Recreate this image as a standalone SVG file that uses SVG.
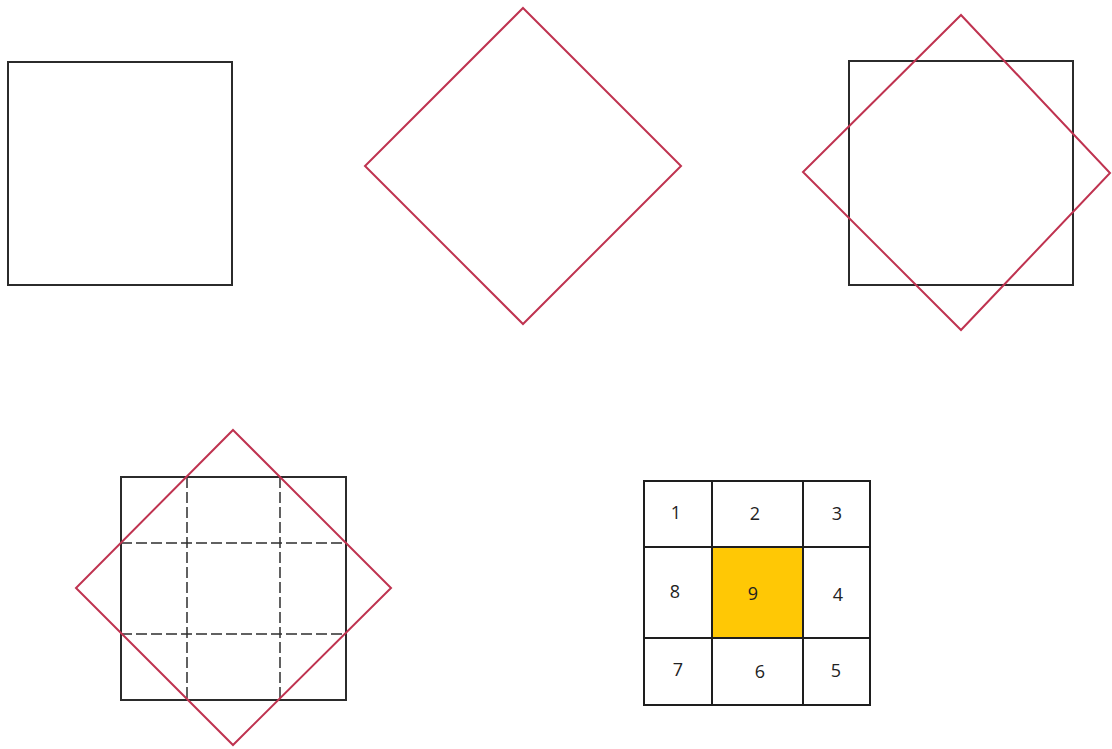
<svg xmlns="http://www.w3.org/2000/svg" width="1112" height="749" viewBox="0 0 1112 749">
<style>
.sq{fill:none;stroke:#2b2b2b;stroke-width:2}
.dm{fill:none;stroke:#bf3350;stroke-width:2}
.dash{fill:none;stroke:#2e2e2e;stroke-width:1.5;stroke-dasharray:11 4}
.grid{fill:none;stroke:#1e1e1e;stroke-width:2}
.num{font-family:"Open Sans","Liberation Sans",sans-serif;font-size:18px;fill:#222;text-anchor:middle;dominant-baseline:central}
</style>
<rect width="1112" height="749" fill="#fff"/>
<g id="fig1">
<rect class="sq" x="8" y="62" width="224" height="223"/>
</g>
<g id="fig2">
<polygon class="dm" points="523,8 681,166 523,324 365,166"/>
</g>
<g id="fig3">
<rect class="sq" x="849" y="61" width="224" height="224"/>
<polygon class="dm" points="961,15 1110,173 961,330 803,172"/>
</g>
<g id="fig4">
<rect class="sq" x="121" y="477" width="225" height="223"/>
<g class="dash-lines">
<line class="dash" x1="187" y1="477" x2="187" y2="700"/>
<line class="dash" x1="280" y1="477" x2="280" y2="700"/>
<line class="dash" x1="121" y1="543" x2="346" y2="543"/>
<line class="dash" x1="121" y1="634" x2="346" y2="634"/>
</g>
<polygon class="dm" points="233,430 391,588 233,745 76,588"/>
</g>
<g id="fig5">
<rect x="712" y="547" width="91" height="91" fill="#ffc805"/>
<rect class="grid" x="644" y="481" width="226" height="224"/>
<line class="grid" x1="712" y1="481" x2="712" y2="705"/>
<line class="grid" x1="803" y1="481" x2="803" y2="705"/>
<line class="grid" x1="644" y1="547" x2="870" y2="547"/>
<line class="grid" x1="644" y1="638" x2="870" y2="638"/>
<text class="num" x="676" y="512">1</text>
<text class="num" x="755" y="513">2</text>
<text class="num" x="837" y="513">3</text>
<text class="num" x="675" y="591">8</text>
<text class="num" x="753" y="593">9</text>
<text class="num" x="838" y="594">4</text>
<text class="num" x="678" y="669">7</text>
<text class="num" x="760" y="671">6</text>
<text class="num" x="836" y="670">5</text>
</g>
</svg>
